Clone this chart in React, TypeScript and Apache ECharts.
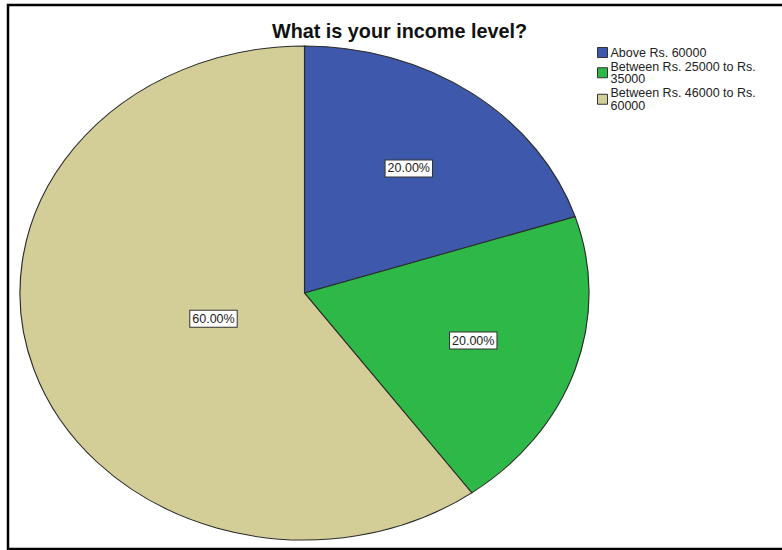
import React, { useEffect, useRef } from "react";
import * as echarts from "echarts";

const categories = [
  "Above Rs. 60000",
  "Between Rs. 25000 to Rs.\n35000",
  "Between Rs. 46000 to Rs.\n60000",
];
const values = [20, 20, 60];
const percentLabels = ["20.00%", "20.00%", "60.00%"];
const colors = ["#3E58AC", "#2EB848", "#D3CE97"];
const titleText = "What is your income level?";

export default function App() {
  const ref = useRef<HTMLDivElement>(null);
  useEffect(() => {
    if (!ref.current) return;
    const chart = echarts.init(ref.current, null, { renderer: "svg" });
    const total = values.reduce((a, b) => a + b, 0);
    const cx = 304.5;
    const cy = 293;
    const rx = 284.5;
    const ry = 247;

    const series = categories.map((name, i) => {
      const before = values.slice(0, i).reduce((a, b) => a + b, 0);
      return {
        type: "custom",
        name,
        coordinateSystem: "none",
        itemStyle: { color: colors[i] },
        data: [[values[i]]],
        renderItem: (params: any, api: any) => {
          const v = api.value(0);
          const start = (before / total) * Math.PI * 2 - Math.PI / 2;
          const end = start + (v / total) * Math.PI * 2;
          const half = (end - start) / 2;
          const mid = start + half;
          const d = (2 * Math.sin(half)) / (3 * half);
          const lx = cx + Math.cos(mid) * rx * d;
          const ly = cy + Math.sin(mid) * ry * d;
          return {
            type: "group",
            children: [
              {
                type: "sector",
                x: cx,
                y: cy,
                scaleX: rx / ry,
                scaleY: 1,
                shape: { cx: 0, cy: 0, r0: 0, r: ry, startAngle: start, endAngle: end, clockwise: true },
                style: { fill: colors[i], stroke: "#2a2a2a", lineWidth: 1, strokeNoScale: true },
              },
              {
                type: "text",
                z2: 10,
                style: {
                  text: percentLabels[i],
                  x: lx,
                  y: ly,
                  align: "center",
                  verticalAlign: "middle",
                  fill: "#222",
                  fontFamily: "Liberation Sans, Arial, sans-serif",
                  fontSize: 12.5,
                  backgroundColor: "#ffffff",
                  borderColor: "#333",
                  borderWidth: 1,
                  padding: [2, 2, 1, 2],
                },
              },
            ],
          };
        },
      };
    });

    chart.setOption({
      animation: false,
      backgroundColor: "#ffffff",
      title: {
        text: titleText,
        left: 267,
        top: 16,
        textStyle: {
          fontFamily: "Liberation Sans, Arial, sans-serif",
          fontWeight: "bold",
          fontSize: 19.8,
          color: "#111",
        },
      },
      legend: {
        orient: "vertical",
        left: 592,
        top: 41,
        icon: "rect",
        itemWidth: 10,
        itemHeight: 10,
        itemGap: 1,
        selectedMode: false,
        itemStyle: { borderColor: "#333", borderWidth: 1 },
        textStyle: {
          fontFamily: "Liberation Sans, Arial, sans-serif",
          fontSize: 12.5,
          lineHeight: 12.5,
          color: "#222",
          padding: [0, 0, 0, -2],
        },
        data: categories,
      },
      graphic: [
        {
          type: "rect",
          shape: { x: 8, y: 5, width: 800, height: 544 },
          style: { fill: "none", stroke: "#000", lineWidth: 2.5 },
          silent: true,
        },
      ],
      series,
    });
    return () => chart.dispose();
  }, []);
  return (
    <div
      ref={ref}
      style={{ position: "fixed", left: 0, top: 0, width: 782, height: 550 }}
    />
  );
}
